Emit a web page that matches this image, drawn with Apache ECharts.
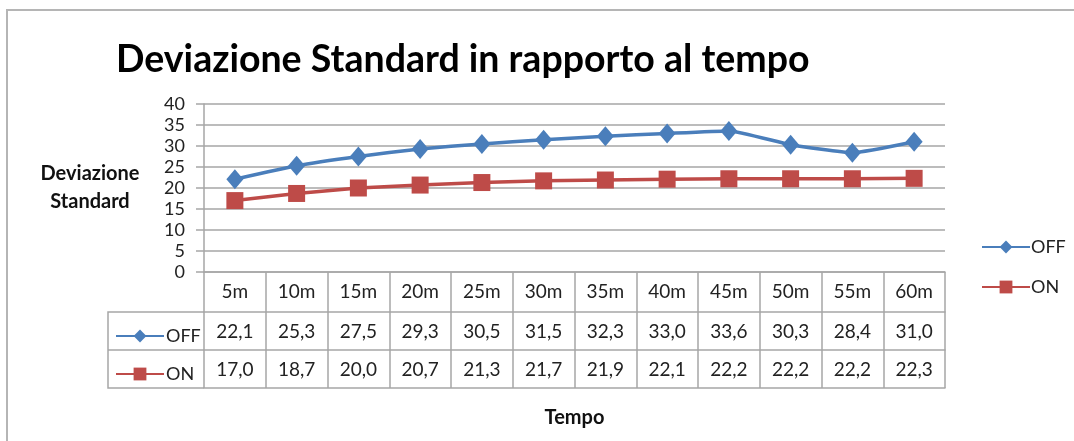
<!DOCTYPE html>
<html>
<head>
<meta charset="utf-8">
<script src="https://cdn.jsdelivr.net/npm/echarts@6/dist/echarts.min.js"></script>
<style>
  html, body { margin: 0; padding: 0; background: #fff; }
  #chart { width: 1074px; height: 441px; }
</style>
</head>
<body>
<div id="chart"></div>
<script>
const categories = ["5m", "10m", "15m", "20m", "25m", "30m", "35m", "40m", "45m", "50m", "55m", "60m"];
const offValues = [22.1, 25.3, 27.5, 29.3, 30.5, 31.5, 32.3, 33.0, 33.6, 30.3, 28.4, 31.0];
const onValues = [17.0, 18.7, 20.0, 20.7, 21.3, 21.7, 21.9, 22.1, 22.2, 22.2, 22.2, 22.3];

const FONT = "Lato, 'Open Sans', sans-serif";
const GRID_COLOR = "#a6a6a6";
const fmt = (v) => v.toFixed(1).replace(".", ",");

const chart = echarts.init(document.getElementById("chart"));

// righe della tabella dati sotto il grafico
const tableAxis = (offset, values, extra) => Object.assign({
  type: "category",
  position: "bottom",
  offset: offset,
  data: categories,
  boundaryGap: true,
  axisLine: { show: true, lineStyle: { color: GRID_COLOR, width: 1.5 } },
  axisTick: { show: false },
  axisLabel: {
    show: !!values,
    interval: 0,
    margin: 10,
    fontFamily: FONT,
    fontSize: 19,
    color: "#222",
    formatter: (v, i) => values ? fmt(values[i]) : ""
  },
  splitLine: { show: false }
}, extra || {});

const option = {
  animation: false,
  textStyle: { fontFamily: FONT },
  title: {
    text: "Deviazione Standard in rapporto al tempo",
    left: 111,
    top: 36,
    textStyle: { fontFamily: FONT, fontSize: 37.5, fontWeight: "bold", color: "#000" }
  },
  legend: [
    {
      orient: "vertical",
      left: 976,
      top: 233,
      itemGap: 22,
      itemWidth: 48,
      itemHeight: 16,
      data: ["OFF", "ON"],
      textStyle: { fontFamily: FONT, fontSize: 18, color: "#222", padding: [0, 0, 0, -4] }
    },
    {
      orient: "vertical",
      left: 110,
      top: 322,
      itemGap: 20,
      itemWidth: 48,
      itemHeight: 16,
      selectedMode: false,
      data: ["OFF", "ON"],
      textStyle: { fontFamily: FONT, fontSize: 18, color: "#222", padding: [0, 0, 0, -3] }
    }
  ],
  grid: { left: 204, right: 129, top: 104, bottom: 169, containLabel: false },
  xAxis: [
    {
      type: "category",
      position: "bottom",
      data: categories,
      boundaryGap: true,
      axisLine: { show: true, lineStyle: { color: GRID_COLOR, width: 1.5 } },
      axisTick: { show: true, interval: 0, length: 116, lineStyle: { color: GRID_COLOR, width: 1.5 } },
      axisLabel: { interval: 0, margin: 10, fontFamily: FONT, fontSize: 19, color: "#222" },
      splitLine: { show: false }
    },
    tableAxis(40, offValues),
    tableAxis(78, onValues),
    tableAxis(116, null, {
      name: "Tempo",
      nameLocation: "middle",
      nameGap: 20,
      nameTextStyle: { fontFamily: FONT, fontSize: 20, fontWeight: "bold", color: "#111" }
    })
  ],
  yAxis: {
    type: "value",
    min: 0,
    max: 40,
    interval: 5,
    name: "Deviazione\nStandard",
    nameLocation: "middle",
    nameRotate: 0,
    nameGap: 114,
    nameTextStyle: { fontFamily: FONT, fontSize: 20, fontWeight: "bold", color: "#111", align: "center", lineHeight: 28, padding: [6, 0, 0, 0] },
    axisLine: { show: true, lineStyle: { color: GRID_COLOR, width: 1.5 } },
    axisTick: { show: true, length: 8, lineStyle: { color: GRID_COLOR, width: 1.5 } },
    axisLabel: { margin: 19, fontFamily: FONT, fontSize: 18, color: "#222" },
    splitLine: { lineStyle: { color: GRID_COLOR, width: 1.5 } }
  },
  series: [
    {
      name: "OFF",
      type: "line",
      xAxisIndex: 0,
      data: offValues,
      smooth: 0.15,
      symbol: "diamond",
      symbolSize: [17, 20],
      lineStyle: { color: "#4a7ebb", width: 3.5 },
      itemStyle: { color: "#4a7ebb" }
    },
    {
      name: "ON",
      type: "line",
      xAxisIndex: 0,
      data: onValues,
      symbol: "rect",
      symbolSize: 17,
      lineStyle: { color: "#be4b48", width: 3.5 },
      itemStyle: { color: "#be4b48" }
    }
  ],
  graphic: [
    // cornice del grafico
    { type: "rect", shape: { x: 7, y: 10, width: 1200, height: 600 }, style: { fill: "none", stroke: "#b5b5b5", lineWidth: 2 }, silent: true },
    // colonna della legenda nella tabella
    { type: "polyline", shape: { points: [[204, 312], [108, 312], [108, 388], [204, 388]] }, style: { fill: "none", stroke: GRID_COLOR, lineWidth: 1.5 }, silent: true },
    { type: "line", shape: { x1: 108, y1: 350, x2: 204, y2: 350 }, style: { stroke: GRID_COLOR, lineWidth: 1.5 }, silent: true }
  ]
};

chart.setOption(option);
</script>
</body>
</html>
